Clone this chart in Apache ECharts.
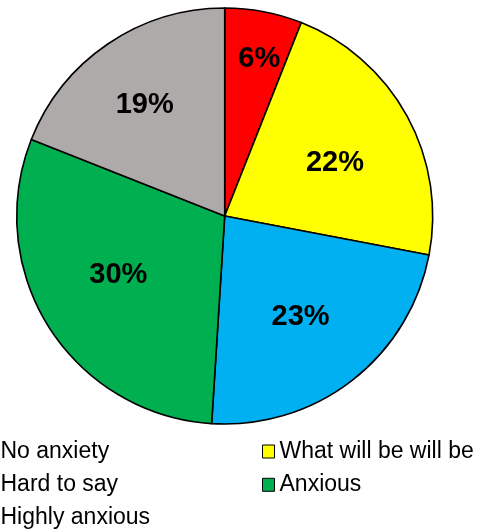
<!DOCTYPE html>
<html>
<head>
<meta charset="utf-8">
<script src="https://cdn.jsdelivr.net/npm/echarts@6/dist/echarts.min.js"></script>
<style>
html,body{margin:0;padding:0;background:#fff;}
#chart{width:481px;height:529px;}
</style>
</head>
<body>
<div id="chart"></div>
<script>
var categories = ['No anxiety', 'What will be will be', 'Hard to say', 'Anxious', 'Highly anxious'];
var values = [6, 22, 23, 30, 19];
var colors = ['#FF0000', '#FFFF00', '#00B0F0', '#00B050', '#AEAAAA'];
var legendLeft = ['No anxiety', 'Hard to say', 'Highly anxious'];
var legendRight = ['What will be will be', 'Anxious'];

// label placement style (radius fraction, angle nudge in degrees)
var labelRadiusFrac = [0.78, 0.591, 0.603, 0.581, 0.662];
var labelAngleNudge = [1.5, 2.5, 0.6, 4.1, -1.3];

var CX = 224.7, CY = 216, R = 208;
var chart = echarts.init(document.getElementById('chart'), null, {renderer: 'canvas'});
var legendText = {fontFamily: 'Liberation Sans, Arial, sans-serif', fontSize: 23, color: '#000', lineHeight: 23};
var legendCommon = {
  orient: 'vertical', top: 440, height: 100, padding: 0, icon: 'rect', itemWidth: 12, itemHeight: 13, itemGap: 10.3,
  textStyle: legendText, selectedMode: false,
  itemStyle: {borderColor: '#000', borderWidth: 1}
};
chart.setOption({
  animation: false,
  color: colors,
  legend: [
    Object.assign({}, legendCommon, {left: -17, data: legendLeft}),
    Object.assign({}, legendCommon, {left: 262, data: legendRight})
  ],
  series: [{
    type: 'pie',
    center: [CX, CY],
    radius: [0, R],
    startAngle: 90,
    clockwise: true,
    avoidLabelOverlap: false,
    itemStyle: {borderColor: '#000', borderWidth: 1.6},
    label: {
      show: true,
      position: 'inside',
      formatter: '{d}%',
      fontFamily: 'Liberation Sans, Arial, sans-serif',
      fontWeight: 'bold',
      fontSize: 29,
      color: '#000'
    },
    labelLine: {show: false},
    emphasis: {disabled: true},
    labelLayout: function (p) {
      var lr = p.labelRect;
      var lx = lr.x + lr.width / 2, ly = lr.y + lr.height / 2;
      var theta = Math.atan2(lx - CX, -(ly - CY));
      var t = theta + labelAngleNudge[p.dataIndex] * Math.PI / 180;
      var rr = labelRadiusFrac[p.dataIndex] * R;
      var nx = CX + rr * Math.sin(t), ny = CY - rr * Math.cos(t) + 1.5;
      return {dx: nx - lx, dy: ny - ly};
    },
    data: categories.map(function (c, i) { return {name: c, value: values[i]}; })
  }]
});
</script>
</body>
</html>
